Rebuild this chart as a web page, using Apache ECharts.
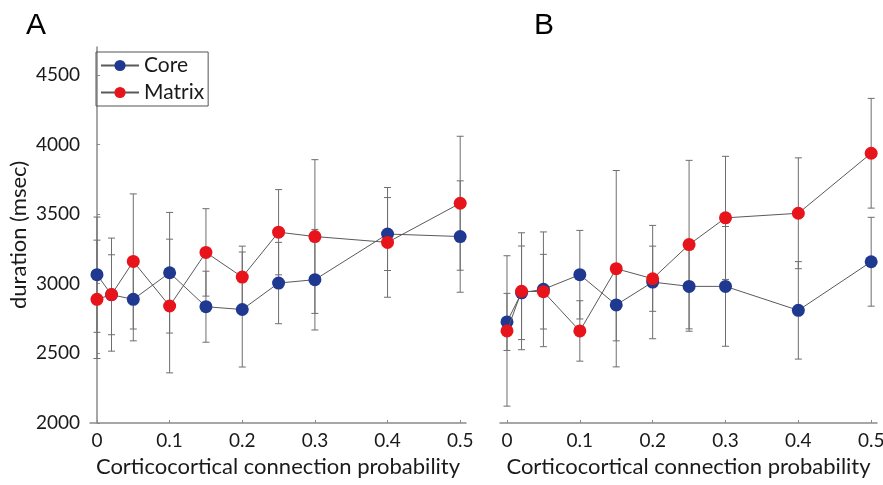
<!DOCTYPE html>
<html>
<head>
<meta charset="utf-8">
<script src="https://cdn.jsdelivr.net/npm/echarts@6/dist/echarts.min.js"></script>
<style>
  html, body { margin: 0; padding: 0; background: #fff; }
  #chart { width: 883px; height: 485px; }
</style>
</head>
<body>
<div id="chart"></div>
<script>
// connection probabilities (x)
var probs = [0, 0.02, 0.05, 0.1, 0.15, 0.2, 0.25, 0.3, 0.4, 0.5]
var xTicks = [0, 0.1, 0.2, 0.3, 0.4, 0.5]
var yTicks = [2000, 2500, 3000, 3500, 4000, 4500]

// panel A
var coreA = [3065, 2921, 2888, 3079, 2835, 2815, 3005, 3029, 3357, 3339]
var coreAErr = [414, 287, 298, 433, 255, 413, 292, 361, 262, 400]
var matrixA = [2888, 2922, 3160, 2840, 3225, 3048, 3370, 3339, 3297, 3578]
var matrixAErr = [425, 406, 485, 480, 314, 222, 306, 552, 394, 481]

// panel B
var coreB = [2726, 2935, 2960, 3065, 2848, 3012, 2981, 2981, 2809, 3158]
var coreBErr = [205, 336, 412, 318, 258, 407, 322, 430, 350, 319]
var matrixB = [2661, 2946, 2943, 2661, 3108, 3036, 3281, 3473, 3506, 3937]
var matrixBErr = [540, 420, 268, 217, 705, 234, 605, 442, 398, 394]

var coreColor = '#1f3990'
var matrixColor = '#e8141b'
var axisColor = '#8a8a8a'
var textColor = '#1a1a1a'
var fontFam = 'Lato, "Open Sans", sans-serif'

function pairs(vals) {
  return probs.map(function (p, i) { return [p, vals[i]] })
}

function errData(vals, errs) {
  return probs.map(function (p, i) { return [p, vals[i] - errs[i], vals[i] + errs[i]] })
}

function renderErr(params, api) {
  var lo = api.coord([api.value(0), api.value(1)])
  var hi = api.coord([api.value(0), api.value(2)])
  var w = 3.5
  var style = { stroke: '#6e6e6e', lineWidth: 1 }
  return {
    type: 'group',
    children: [
      { type: 'line', shape: { x1: lo[0], y1: lo[1], x2: hi[0], y2: hi[1] }, style: style },
      { type: 'line', shape: { x1: lo[0] - w, y1: lo[1], x2: lo[0] + w, y2: lo[1] }, style: style },
      { type: 'line', shape: { x1: hi[0] - w, y1: hi[1], x2: hi[0] + w, y2: hi[1] }, style: style }
    ]
  }
}

function errSeries(idx, vals, errs) {
  return {
    type: 'custom',
    xAxisIndex: idx,
    yAxisIndex: idx,
    renderItem: renderErr,
    data: errData(vals, errs),
    z: 1,
    silent: true
  }
}

function lineSeries(idx, name, vals, color, z) {
  return {
    name: name,
    type: 'line',
    xAxisIndex: idx,
    yAxisIndex: idx,
    data: pairs(vals),
    symbol: 'circle',
    symbolSize: 13,
    z: z,
    lineStyle: { color: '#5a5a5a', width: 1 },
    itemStyle: { color: color, borderWidth: 0 },
    animation: false
  }
}

function xAxis(idx) {
  return {
    type: 'value',
    gridIndex: idx,
    min: -0.0096,
    max: 0.508,
    name: 'Corticocortical connection probability',
    nameLocation: 'middle',
    nameGap: 33,
    nameTextStyle: { fontSize: 22, color: textColor, fontFamily: fontFam },
    splitLine: { show: false },
    axisLine: { lineStyle: { color: axisColor, width: 1.5 } },
    axisTick: { inside: true, length: 3, customValues: xTicks, lineStyle: { color: axisColor } },
    axisLabel: {
      customValues: xTicks,
      fontSize: 19,
      color: textColor,
      fontFamily: fontFam,
      margin: 8,
      formatter: function (v) { return String(Math.round(v * 10) / 10) }
    }
  }
}

function yAxis(idx, visible) {
  return {
    type: 'value',
    gridIndex: idx,
    min: 2000,
    max: 4700,
    show: visible,
    name: visible ? 'duration (msec)' : '',
    nameLocation: 'middle',
    nameGap: 60,
    nameTextStyle: { fontSize: 22, color: textColor, fontFamily: fontFam },
    splitLine: { show: false },
    axisLine: { show: true, lineStyle: { color: axisColor, width: 1.5 } },
    axisTick: { inside: true, length: 3, customValues: yTicks, lineStyle: { color: axisColor } },
    axisLabel: {
      customValues: yTicks,
      fontSize: 19,
      color: textColor,
      fontFamily: fontFam,
      margin: 10,
      formatter: function (v) { return String(v) }
    }
  }
}

var chart = echarts.init(document.getElementById('chart'))
chart.setOption({
  backgroundColor: '#fff',
  animation: false,
  title: [
    { text: 'A', left: 21, top: 6, textStyle: { fontSize: 30, fontWeight: 'normal', color: '#000', fontFamily: 'Liberation Sans, Arial, sans-serif' } },
    { text: 'B', left: 529, top: 6, textStyle: { fontSize: 30, fontWeight: 'normal', color: '#000', fontFamily: 'Liberation Sans, Arial, sans-serif' } }
  ],
  legend: {
    data: ['Core', 'Matrix'],
    left: 96,
    top: 52,
    orient: 'vertical',
    itemWidth: 38,
    itemHeight: 14,
    itemGap: 6,
    padding: [3, 4, 3, 4],
    borderColor: '#555',
    borderWidth: 1,
    textStyle: { fontSize: 21, color: textColor, fontFamily: fontFam }
  },
  grid: [
    { left: 90, top: 47, width: 376, height: 376, containLabel: false, outerBoundsMode: 'none' },
    { left: 500, top: 47, width: 377, height: 376, containLabel: false, outerBoundsMode: 'none' }
  ],
  xAxis: [xAxis(0), xAxis(1)],
  yAxis: [yAxis(0, true), yAxis(1, false)],
  series: [
    errSeries(0, coreA, coreAErr),
    errSeries(0, matrixA, matrixAErr),
    errSeries(1, coreB, coreBErr),
    errSeries(1, matrixB, matrixBErr),
    lineSeries(0, 'Core', coreA, coreColor, 2),
    lineSeries(0, 'Matrix', matrixA, matrixColor, 3),
    lineSeries(1, 'Core', coreB, coreColor, 2),
    lineSeries(1, 'Matrix', matrixB, matrixColor, 3)
  ]
})
</script>
</body>
</html>
